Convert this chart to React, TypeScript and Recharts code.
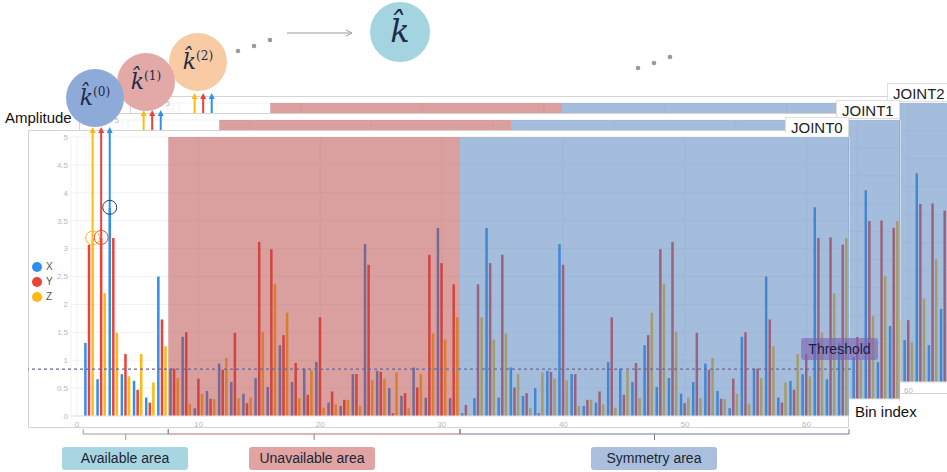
import React from "react";
import { BarChart, Bar, XAxis, YAxis, CartesianGrid, ReferenceArea, ReferenceLine } from "recharts";

// bin index 0..63 (bin 0 = DC, not drawn)
const bins = Array.from({ length: 64 }, (_, i) => i);

const ampX = [null,
  1.31, 0.66, 3.74, 0.75, 0.63, 0.33, 2.5, 0.85, 1.42, 0.14,
  0.45, 0.94, 0.61, 0.4, 0.68, 0.52, 1.27, 0.61, 0.85, 0.97,
  0.24, 0.18, 0.75, 3.08, 0.81, 0.5, 0.36, 0.87, 0.33, 3.37,
  0.32, 0.05, 0.32, 3.37, 0.33, 0.87, 0.36, 0.5, 0.81, 3.08,
  0.75, 0.18, 0.24, 0.97, 0.85, 0.61, 1.27, 0.52, 0.68, 0.4,
  0.61, 0.94, 0.45, 0.14, 1.42, 0.85, 2.5, 0.33, 0.63, 0.75,
  3.74, 0.66, 1.31];

const ampY = [null,
  3.07, 3.2, 3.19, 1.11, 0.47, 0.24, 1.73, 0.85, 1.5, 0.67,
  0.31, 0.83, 1.49, 0.23, 3.12, 2.99, 1.45, 0.95, 0.38, 1.77,
  0.44, 0.29, 0.75, 2.71, 0.79, 0.05, 0.41, 0.51, 2.89, 2.74,
  2.36, 0.2, 2.36, 2.74, 2.89, 0.51, 0.41, 0.05, 0.79, 2.71,
  0.75, 0.29, 0.44, 1.77, 0.38, 0.95, 1.45, 2.99, 3.12, 0.23,
  1.49, 0.83, 0.31, 0.67, 1.5, 0.85, 1.73, 0.24, 0.47, 1.11,
  3.19, 3.2, 3.07];

const ampZ = [null,
  3.19, 2.2, 1.49, 0.71, 1.11, 0.6, 1.25, 0.68, 0.22, 0.4,
  0.3, 1.04, 0.32, 0.33, 1.51, 2.37, 1.85, 0.32, 0.82, 0.15,
  0.21, 0.29, 0.18, 0.64, 0.67, 0.78, 0.14, 0.75, 1.48, 1.37,
  1.77, 0.02, 1.77, 1.37, 1.48, 0.75, 0.14, 0.78, 0.67, 0.64,
  0.18, 0.29, 0.21, 0.15, 0.82, 0.32, 1.85, 2.37, 1.51, 0.33,
  0.32, 1.04, 0.3, 0.4, 0.22, 0.68, 1.25, 0.6, 1.11, 0.71,
  1.49, 2.2, 3.19];

const yTicks = [0, 0.5, 1, 1.5, 2, 2.5, 3, 3.5, 4, 4.5, 5];
const threshold = 0.84;
const unavailable = [8, 31];
const symmetry = [32, 63];
const peaks = [
  { bin: 1, series: "Z" },
  { bin: 2, series: "Y" },
  { bin: 3, series: "X" },
];
const joints = [
  { label: "JOINT2", dx: 102, dy: -34 },
  { label: "JOINT1", dx: 51, dy: -17 },
  { label: "JOINT0", dx: 0, dy: 0 },
];

const COLORS = { X: "#2f8fea", Y: "#ee4136", Z: "#ffb814" };

const rows = bins.map((b, i) => ({ bin: b, X: ampX[i], Y: ampY[i], Z: ampZ[i] }));

const FRAME_X = 28;
const FRAME_Y = 130;
const FRAME_W = 821;
const FRAME_H = 298;
const Y_AXIS_W = 43;
const BAND = (FRAME_W - Y_AXIS_W) / bins.length;
const bandStart = (b: number) => FRAME_X + Y_AXIS_W + b * BAND;

const peakShape = (key: string, main: boolean) => (p: any) => {
  const { x, y, width, height, fill, payload } = p;
  if (height == null || isNaN(height)) return <g />;
  const isPeak = payload && peaks.some((k) => k.bin === payload.bin && k.series === key);
  if (!isPeak) return <rect x={x} y={y} width={width} height={height} fill={fill} />;
  const cx = x + width / 2;
  const tip = 9;
  return (
    <g>
      <rect x={x} y={y} width={width} height={height} fill={fill} />
      <line x1={cx} y1={y} x2={cx} y2={tip + 5} stroke={fill} strokeWidth={2} />
      <path d={`M${cx - 3},${tip + 6} L${cx},${tip} L${cx + 3},${tip + 6} Z`} fill={fill} />
      {main && <circle cx={cx} cy={y} r={7} fill="none" stroke={key === "X" ? "#1d3d7a" : fill} strokeWidth={1} />}
    </g>
  );
};

function Panel({ label, dx, dy }: { label: string; dx: number; dy: number }) {
  const main = dx === 0;
  const fx = FRAME_X + dx;
  const fy = FRAME_Y + dy;
  return (
    <>
      <div style={{ position: "absolute", left: fx, top: fy, width: FRAME_W, height: FRAME_H, background: "#fff", border: "1px solid #d4d4d4", boxSizing: "border-box" }} />
      <div style={{ position: "absolute", left: fx, top: fy - 12 }}>
        <BarChart width={FRAME_W + 70} height={FRAME_H + 12} data={rows} margin={{ top: 19, right: 70, bottom: 0, left: 0 }} barSize={2.5} barGap={1.1}>
          <CartesianGrid stroke="#f1f1f1" />
          <XAxis dataKey="bin" interval={9} height={12} tickLine={false} tickSize={0} tickMargin={5} axisLine={{ stroke: "#e4e4e4" }} tick={{ fontSize: 8, fill: "#b9b9b9" }} />
          <YAxis width={Y_AXIS_W} domain={[0, 5]} ticks={yTicks} axisLine={false} tickLine={false} tickSize={0} tickMargin={3} tick={{ fontSize: 8, fill: "#b9b9b9" }} />
          <Bar dataKey="X" fill={COLORS.X} isAnimationActive={false} shape={peakShape("X", main)} />
          <Bar dataKey="Y" fill={COLORS.Y} isAnimationActive={false} shape={peakShape("Y", main)} />
          <Bar dataKey="Z" fill={COLORS.Z} isAnimationActive={false} shape={peakShape("Z", main)} />
          <ReferenceArea x1={unavailable[0]} x2={unavailable[1]} y1={0} y2={5} fill="#b94646" fillOpacity={0.52} stroke="none" zIndex={450} />
          <ReferenceArea x1={symmetry[0]} x2={symmetry[1]} y1={0} y2={5} fill="#5281bb" fillOpacity={0.52} stroke="none" zIndex={450} />
          {main && (
            <ReferenceLine
              y={threshold}
              zIndex={460}
              ifOverflow="visible"
              shape={(p: any) => (
                <line x1={p.x1 - 51} y1={p.y1} x2={p.x2 + 4} y2={p.y2} stroke="#6b6795" strokeWidth={1.2} strokeDasharray="3 3" />
              )}
            />
          )}
        </BarChart>
      </div>
      <div style={{ position: "absolute", left: fx + FRAME_W - 64, top: fy - 13, width: 64, height: main ? 16 : 19, background: "#fff", border: "1px solid #dedede", borderBottom: main ? "none" : "1px solid #dedede", boxSizing: "border-box", overflow: "hidden", fontSize: 15, lineHeight: "20px", paddingLeft: 5, color: "#222" }}>
        {label}
      </div>
    </>
  );
}

function KHat({ cx, cy, r, fill, sup, size }: { cx: number; cy: number; r: number; fill: string; sup?: string; size: number }) {
  return (
    <g>
      <circle cx={cx} cy={cy} r={r} fill={fill} />
      <text x={cx} y={cy + size * 0.3} textAnchor="middle" fill="#1f2b4a" fontFamily="'DejaVu Serif', serif">
        <tspan fontStyle="italic" fontSize={size}>{"k\u0302"}</tspan>
        {sup && <tspan fontSize={size * 0.55} dy={-size * 0.38}>{sup}</tspan>}
      </text>
    </g>
  );
}

const areaLabels = [
  { text: "Available area", from: 1, to: 8, box: [62, 126], bg: "#a8d5e2", line: "#9a9a9a" },
  { text: "Unavailable area", from: 8, to: 32, box: [249, 126], bg: "#e2a3a3", line: "#a97575" },
  { text: "Symmetry area", from: 32, to: 64, box: [591, 126], bg: "#a9bfdd", line: "#737a96" },
];

export default function App() {
  return (
    <div style={{ position: "absolute", left: 0, top: 0, width: 947, height: 472, overflow: "hidden", background: "#fff", fontFamily: "'Liberation Sans', Arial, sans-serif" }}>
      {joints.map((j) => (
        <Panel key={j.label} label={j.label} dx={j.dx} dy={j.dy} />
      ))}

      {/* legend */}
      <div style={{ position: "absolute", left: 32, top: 259, fontSize: 10, color: "#555", lineHeight: "15px" }}>
        {(["X", "Y", "Z"] as const).map((k) => (
          <div key={k} style={{ display: "flex", alignItems: "center" }}>
            <span style={{ width: 10, height: 10, borderRadius: 5, background: COLORS[k], display: "inline-block", marginRight: 4 }} />
            {k}
          </div>
        ))}
      </div>

      {/* threshold tag */}
      <div style={{ position: "absolute", left: 801, top: 338, width: 77, height: 22, background: "rgba(122,100,176,0.62)", borderRadius: 3, fontSize: 14, lineHeight: "22px", textAlign: "center", color: "#1c1c48" }}>
        Threshold
      </div>

      {/* bin index tag */}
      <div style={{ position: "absolute", left: 850, top: 401, width: 97, height: 30, background: "#fff", fontSize: 15, lineHeight: "22px", paddingLeft: 5, boxSizing: "border-box", color: "#111" }}>
        Bin index
      </div>

      <svg width={947} height={472} style={{ position: "absolute", left: 0, top: 0, pointerEvents: "none" }}>
        <KHat cx={198} cy={62} r={29} fill="#f8cba4" sup="(2)" size={22} />
        <KHat cx={146} cy={82} r={29} fill="#e2a9a7" sup="(1)" size={22} />
        <KHat cx={95} cy={98} r={29} fill="#8eaad8" sup="(0)" size={22} />
        <KHat cx={400} cy={32} r={30} fill="#a3d4e0" size={32} />
        {[[238, 51], [254, 46], [270, 40], [638, 68], [654, 63], [670, 57]].map(([x, y], i) => (
          <circle key={i} cx={x} cy={y} r={2.3} fill="#9a9a9a" />
        ))}
        <line x1={287} y1={33} x2={350} y2={33} stroke="#9a9a9a" strokeWidth={1} />
        <path d="M346,30 L352,33 L346,36" fill="none" stroke="#9a9a9a" strokeWidth={1} />
        <text x={5} y={123} fontSize={15} fill="#111">Amplitude</text>

        {areaLabels.map((a) => {
          const x1 = bandStart(a.from);
          const x2 = bandStart(a.to);
          const mid = a.box[0] + a.box[1] / 2;
          return (
            <g key={a.text}>
              <path d={`M${x1},429 V434 H${x2} V429`} fill="none" stroke={a.line} strokeWidth={1} />
              <line x1={(x1 + x2) / 2} y1={434} x2={(x1 + x2) / 2} y2={440} stroke={a.line} strokeWidth={1} />
              <rect x={a.box[0]} y={447} width={a.box[1]} height={23} rx={3} fill={a.bg} />
              <text x={mid} y={463} textAnchor="middle" fontSize={14} fill="#1c2633">{a.text}</text>
            </g>
          );
        })}
      </svg>
    </div>
  );
}
